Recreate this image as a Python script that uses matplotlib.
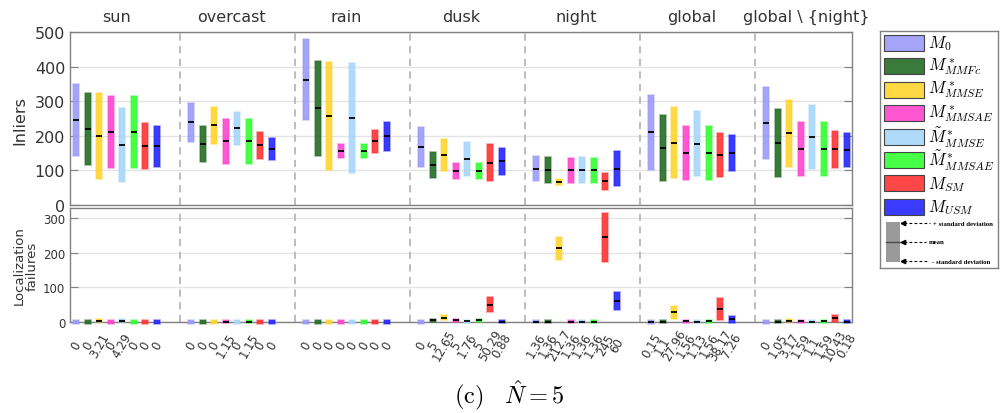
import matplotlib
matplotlib.use("Agg")
import matplotlib.pyplot as plt
from matplotlib.patches import Rectangle
from matplotlib.colors import to_rgba

plt.rcParams["font.family"] = ["DejaVu Sans"]
plt.rcParams["mathtext.fontset"] = "cm"

# ---- data -------------------------------------------------------------
conditions = ["sun", "overcast", "rain", "dusk", "night", "global", "global \\ {night}"]

methods = [r"$M_0$", r"$M^*_{MMFc}$", r"$M^*_{MMSE}$", r"$M^*_{MMSAE}$",
           r"$\tilde{M}^*_{MMSE}$", r"$\tilde{M}^*_{MMSAE}$", r"$M_{SM}$", r"$M_{USM}$"]

colors = ["#9a9af8", "#246c24", "#ffd52e", "#ff44cc",
          "#a6d6fa", "#33ff33", "#ff3333", "#2626ff"]

# number of inliers: mean and standard deviation per condition / method
inlier_mean = [
    [246, 220, 200, 211, 173, 211, 171, 170],
    [239, 176, 230, 184, 222, 184, 172, 162],
    [362, 279, 257, 155, 251, 155, 184, 198],
    [168, 115, 144, 98, 133, 98, 122, 126],
    [105, 101, 66, 100, 101, 100, 68, 105],
    [210, 165, 180, 150, 177, 150, 144, 149],
    [237, 180, 207, 163, 196, 163, 161, 158],
]
inlier_std = [
    [105, 104, 125, 104, 107, 104, 67, 59],
    [57, 53, 53, 66, 48, 66, 40, 33],
    [117, 136, 155, 20, 158, 20, 34, 41],
    [57, 38, 47, 23, 50, 23, 53, 40],
    [37, 37, 8, 37, 37, 37, 24, 51],
    [109, 96, 103, 78, 94, 78, 63, 52],
    [103, 98, 96, 78, 93, 78, 54, 49],
]

# localization failures: mean and standard deviation
fail_mean = [
    [0, 0, 3.21, 0, 4.29, 0, 0, 0],
    [0, 0, 0, 1.15, 0, 1.15, 0, 0],
    [0, 0, 0, 0, 0, 0, 0, 0],
    [0, 5, 12.65, 5, 1.76, 5, 50.29, 0.88],
    [1.36, 1.36, 212.7, 1.36, 1.36, 1.36, 245, 60],
    [0.15, 1.1, 27.96, 1.56, 1.13, 1.56, 38.17, 7.26],
    [0, 1.05, 3.17, 1.59, 1.1, 1.59, 10.43, 0.18],
]
fail_std = [
    [0, 0, 2, 0, 2, 0, 0, 0],
    [0, 0, 0, 1, 0, 1, 0, 0],
    [0, 0, 0, 0, 0, 0, 0, 0],
    [0, 2, 8, 2, 1, 2, 22, 1],
    [1, 1, 33, 1, 1, 1, 71, 26],
    [0.5, 1, 18, 1.5, 1, 1.5, 31, 9],
    [0, 1, 3, 1.5, 1, 1.5, 10, 1],
]

# ---- layout -----------------------------------------------------------
W, H = 1003, 414
fig = plt.figure(figsize=(W / 100, H / 100), dpi=100)


def box(x0, y0, x1, y1):
    """pixel box (top-left origin) -> figure fraction rect"""
    return [x0 / W, 1 - y1 / H, (x1 - x0) / W, (y1 - y0) / H]


ax_in = fig.add_axes(box(70, 33, 852, 206))
ax_f = fig.add_axes(box(70, 209, 852, 323))

SLOT = 10
BAR_W = 0.55
n_m = len(methods)
spine_c = "#808080"
text_c = "#333333"


def x_of(g, j):
    return g * SLOT + j + 1


def draw_bars(ax, means, stds, min_half=0.0):
    for g in range(len(conditions)):
        for j in range(n_m):
            x = x_of(g, j)
            m = means[g][j]
            s = max(stds[g][j], min_half)
            c = colors[j]
            ax.bar(x, 2 * s, bottom=m - s, width=BAR_W,
                   facecolor=to_rgba(c, 0.9), edgecolor=to_rgba(c, 0.45),
                   linewidth=1.2, zorder=3, clip_on=False)
            if m > 0:
                ax.plot([x - BAR_W / 2, x + BAR_W / 2], [m, m], color="k",
                        lw=1.3, zorder=4, solid_capstyle="butt", clip_on=False)


for ax in (ax_in, ax_f):
    ax.set_xlim(0.45, 68.45)
    for sp in ax.spines.values():
        sp.set_color(spine_c)
        sp.set_linewidth(1.0)
    ax.grid(axis="y", color="#e4e4e4", lw=1.0, zorder=0)
    ax.set_axisbelow(True)
    for g in range(1, len(conditions)):
        ax.axvline(g * SLOT, color="#b8b8b8", lw=1.3, ls=(0, (4, 3)), zorder=1)
    ax.tick_params(axis="y", direction="in", length=6, left=True, right=True,
                   color=spine_c, labelcolor=text_c)

# inliers
draw_bars(ax_in, inlier_mean, inlier_std)
ax_in.set_ylim(0, 500)
ax_in.set_yticks([0, 100, 200, 300, 400, 500])
ax_in.tick_params(axis="y", labelsize=11.5)
ax_in.set_xticks([])

# failures (zero-spread entries kept visible as small blocks)
draw_bars(ax_f, fail_mean, fail_std, min_half=4.5)
ax_f.set_ylim(0, 329)
ax_f.set_yticks([0, 100, 200, 300])
ax_f.tick_params(axis="y", labelsize=8.5)
xt = [x_of(g, j) for g in range(len(conditions)) for j in range(n_m)]
xl = ["%g" % fail_mean[g][j] for g in range(len(conditions)) for j in range(n_m)]
ax_f.set_xticks(xt)
ax_f.set_xticklabels(xl, rotation=60, ha="center", va="center",
                     fontsize=8.5, color=text_c)
ax_f.tick_params(axis="x", length=0, pad=16.5)

# condition titles
for g, name in enumerate(conditions):
    ax_in.text(g * SLOT + 4.5, 1.0 + (33 - 21.7) / 173, name,
               transform=ax_in.get_xaxis_transform(), ha="center",
               va="baseline", fontsize=11.5, color=text_c)

fig.text(20 / W, 1 - 121 / H, "Inliers", rotation=90, ha="center",
         va="center", fontsize=11.5, color=text_c)
fig.text(25.5 / W, 1 - 266 / H, "Localization\nfailures", rotation=90,
         ha="center", va="center", fontsize=9.5, color=text_c,
         linespacing=1.05, multialignment="center")

# ---- legend -------------------------------------------------------------
LX0, LY0, LX1, LY1 = 880, 32, 998, 269
lg = fig.add_axes(box(LX0, LY0, LX1, LY1))
lg.set_xlim(0, LX1 - LX0)
lg.set_ylim(LY1 - LY0, 0)
lg.set_xticks([])
lg.set_yticks([])
for sp in lg.spines.values():
    sp.set_color(spine_c)
    sp.set_linewidth(1.0)

for j, (lab, c) in enumerate(zip(methods, colors)):
    yc = 12 + 23.4 * j
    lg.add_patch(Rectangle((4, yc - 8), 40, 16, facecolor=to_rgba(c, 0.9),
                           edgecolor="#444444", lw=0.8))
    lg.text(48, yc, lab, fontsize=12, va="center", ha="left")

# mean / standard deviation key
lg.add_patch(Rectangle((6, 190.5), 14, 40.5, facecolor="#9a9a9a",
                       edgecolor="none"))
lg.plot([6, 20], [210.7, 210.7], color="#4a4a4a", lw=1.0)
key = [(192, 53, "+ standard deviation"), (211, 49, "mean"),
       (230, 52, "- standard deviation")]
for y, xt0, txt in key:
    lg.plot([24, xt0 - 3], [y, y], color="k", lw=0.8, ls=(0, (2.5, 2)))
    lg.plot([23], [y], marker="<", ms=3.2, color="k")
    lg.text(xt0, y, txt, fontsize=4.9, family="Liberation Serif", va="center",
            ha="left", fontweight="bold")

# caption
fig.text(509 / W, 1 - 395 / H, r"$\mathrm{(c)}\ \ \ \hat{N} = 5$",
         fontsize=17.5, ha="center", va="center")

fig.savefig("out.png", dpi=100)
